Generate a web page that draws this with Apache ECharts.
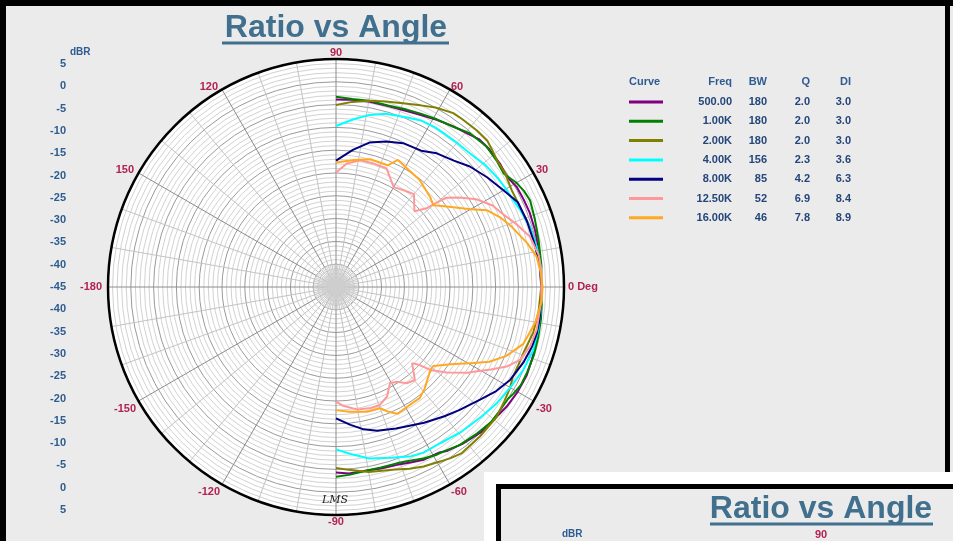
<!DOCTYPE html>
<html><head><meta charset="utf-8">
<script src="https://cdn.jsdelivr.net/npm/echarts@6/dist/echarts.min.js"></script>
<style>html,body{margin:0;padding:0;background:#ebebeb}#c{width:953px;height:541px}</style>
</head><body><div id="c"></div>
<script>
// ---- data (angle in degrees, level in dBR) ----
const seriesNames = ['500.00', '1.00K', '2.00K', '4.00K', '8.00K', '12.50K', '16.00K'];
const bwValues = ['180', '180', '180', '156', '85', '52', '46'];
const qValues = ['2.0', '2.0', '2.0', '2.3', '4.2', '6.9', '7.8'];
const diValues = ['3.0', '3.0', '3.0', '3.6', '6.3', '8.4', '8.9'];
const seriesColors = ['#800080', '#008000', '#808000', '#00ffff', '#000080', '#ff9999', '#ffa820'];

const curve500 = [[90,-3.9],[85,-3.8],[80,-3.7],[74,-3.7],[69,-3.5],[64,-3.0],[59,-2.2],[54,-1.4],[50,-0.8],[46,0.1],[42,0.2],[37,0.0],[33,-0.4],[29,0.3],[25,0.4],[21,0.5],[16,0.4],[11,0.25],[6,0.1],[0,0],[-5,0.1],[-9,0.2],[-15,0.5],[-20,0.8],[-25,1.1],[-30,1.0],[-35,0.7],[-40,0.2],[-45,0.0],[-51,-0.8],[-56,-1.6],[-58,-2.2],[-63,-2.5],[-67,-3.2],[-71,-3.75],[-76,-4.0],[-80,-4.2],[-86,-4.0],[-90,-4.3]];
const curve1k = [[90,-3.3],[85,-3.6],[80,-3.5],[74,-3.6],[69,-3.2],[64,-2.7],[59,-2.1],[54,-1.5],[49,-0.3],[43,0.15],[38,-0.2],[34,-0.6],[30,0.7],[27,1.3],[24,1.6],[19,1.1],[13,0.6],[6,0.3],[0,0],[-5,0.3],[-9,0.5],[-14,0.7],[-19,0.9],[-24,0.9],[-28,0.9],[-31,0.4],[-33,0.0],[-37,0.0],[-41,0.1],[-46,-0.4],[-52,-1.0],[-56,-1.8],[-59,-2.1],[-63,-2.8],[-67,-3.6],[-71,-4.1],[-76,-4.2],[-80,-4.2],[-86,-3.7],[-90,-3.4]];
const curve2k = [[90,-5.1],[85,-4.25],[80,-3.5],[75,-2.9],[70,-2.1],[65,-1.05],[61,0.0],[56,1.0],[53,1.05],[48,1.2],[44,1.15],[41,0.5],[38,-0.1],[34,-0.3],[29,-1.0],[24,-1.0],[17,-0.45],[11,-0.1],[5,0.0],[0,0],[-7,-0.25],[-13,-0.6],[-19,-1.4],[-23,-1.5],[-27,-1.5],[-30,-0.9],[-34,-0.4],[-39,0.3],[-46,0.5],[-53,0.7],[-56,0.2],[-59,-0.4],[-64,-1.2],[-68,-2.0],[-72,-2.9],[-80,-3.8],[-86,-4.8],[-90,-5.3]];
const curve4k = [[90,-9.7],[84,-8.0],[79,-6.55],[74,-5.5],[68,-4.8],[63,-4.0],[58,-3.8],[51,-3.75],[45,-3.5],[39,-2.7],[34,-2.25],[30,-1.95],[26,-1.7],[23,-1.25],[17,-0.45],[11,-0.1],[6,0.1],[0,0],[-6,0.2],[-12,0.35],[-18,0.4],[-24,-0.1],[-30,-0.9],[-36,-1.5],[-42,-2.3],[-49,-3.0],[-56,-3.8],[-62,-3.9],[-66,-4.4],[-72,-5.6],[-79,-6.7],[-85,-8.25],[-90,-9.4]];
const curve8k = [[90,-17.3],[83,-14.7],[77,-12.5],[71,-11.25],[65,-10.2],[58,-9.75],[53,-8.3],[47,-7.1],[42,-5.5],[36,-4.05],[30,-2.6],[25,-1.0],[19,-0.7],[13,-0.5],[6,0.0],[0,0],[-5,0.1],[-9,0.2],[-13,0.2],[-17,-0.1],[-22,-0.7],[-28,-1.7],[-33,-3.1],[-38,-4.9],[-45,-6.8],[-50,-8.0],[-57,-9.5],[-67,-11.3],[-74,-12.2],[-79,-13.2],[-84,-14.6],[-90,-16.2]];
const curve12k = [[90,-19.9],[85,-17.8],[79,-16.7],[73,-16.7],[67,-16.7],[60,-19.7],[55,-19.1],[50,-18.4],[44,-21.1],[41,-18.7],[40,-16.3],[39,-13.9],[36,-11.6],[32,-8.7],[27.5,-6.3],[24,-5.2],[19,-3.0],[14.5,-1.05],[9,0.0],[4,0.2],[0,0],[-4,0.1],[-12,0.0],[-17,-0.5],[-21.6,-1.6],[-25,-3.7],[-28,-6.5],[-31.7,-9.6],[-33,-10.5],[-37.7,-14.3],[-41.4,-17.5],[-43,-19.9],[-45,-21.4],[-49.7,-18.25],[-53.7,-18.8],[-57.3,-20.3],[-60.7,-20.8],[-65,-18.5],[-69.6,-17.4],[-74,-17.4],[-80,-17.7],[-86.5,-18.9],[-90,-19.85]];
const curve16k = [[90,-17.7],[82,-16.9],[75,-16.0],[67,-16.0],[64,-14.0],[59,-14.7],[52,-15.2],[44,-16.4],[40,-17.1],[36,-15.0],[30,-10.9],[27,-7.9],[23,-5.9],[19,-4.3],[13,-2.0],[8.6,-0.5],[4,0.0],[0,0.3],[-4,0.2],[-10,-0.6],[-13,-1.3],[-17,-2.1],[-22,-4.7],[-26,-7.6],[-29,-10.6],[-34,-14.7],[-39,-17.5],[-41,-17.5],[-49,-15.4],[-53,-14.5],[-58,-14.5],[-64,-14.1],[-67,-15.2],[-70,-16.7],[-76,-16.8],[-84,-17.5],[-90,-18.0]];
const curves = [curve500, curve1k, curve2k, curve4k, curve8k, curve12k, curve16k];

const dbrMin = -45, dbrMax = 5, dbrStep = 5;
const angleMin = -180, angleMax = 180, angleStep = 30;
const headerLabels = ['Curve', 'Freq', 'BW', 'Q', 'DI'];

// ---- chart ----
const TITLE_C = '#41708e';
const BLUE = '#2d5c92';
const DARK = '#24467a';
const RED = '#b22252';
const FONT = 'Liberation Sans, Arial, sans-serif';

const chart = echarts.init(document.getElementById('c'), null, {renderer: 'canvas'});

const lbl = {color: BLUE, fontWeight: 'bold', fontSize: 11, fontFamily: FONT, margin: 4};
const yCommon = {type: 'value', min: dbrMin, max: dbrMax, interval: dbrStep,
  axisLine: {show: false}, axisTick: {show: false}, splitLine: {show: false}};

const rs = w => ({width: w, align: 'right', fontWeight: 'bold', fontSize: 11, color: DARK, fontFamily: FONT});
const rich = {f: rs(64), b: rs(35), q: rs(43), d: rs(41)};

// angle-label spacing from the rim (padding: top, right, bottom, left)
const angPad = {'90': [0,0,5,0], '60': [0,0,1,3], '30': [0,0,0,6], '0': [0,0,0,8],
  '-30': [4,0,0,6], '-60': [5,0,0,3], '-90': [5,0,0,0], '-120': [5,4,0,0],
  '-150': [4,6,0,0], '-180': [0,10,0,0], '150': [0,8,0,0], '120': [0,6,1,0]};
const angRich = {};
Object.keys(angPad).forEach(k => {
  angRich['a' + k.replace('-', 'm')] = {padding: angPad[k], color: RED, fontWeight: 'bold', fontSize: 11, fontFamily: FONT};
});

const headerX = [629, 732, 767, 810, 851];
const headerAlign = ['left', 'right', 'right', 'right', 'right'];

const graphics = [
  {type: 'circle', z: -1, shape: {cx: 336, cy: 287, r: 228}, style: {fill: '#ffffff'}},
  {type: 'rect', shape: {x: 0, y: 0, width: 953, height: 6}, style: {fill: '#000'}, z: 100},
  {type: 'rect', shape: {x: 0, y: 0, width: 6, height: 541}, style: {fill: '#000'}, z: 100},
  {type: 'rect', shape: {x: 945, y: 0, width: 5, height: 475}, style: {fill: '#000'}, z: 100},
  {type: 'text', x: 336, y: 28, z: 100, style: {text: 'Ratio vs Angle', font: 'bold 32px ' + FONT, fill: TITLE_C, align: 'center', verticalAlign: 'middle'}},
  {type: 'line', z: 100, shape: {x1: 222, y1: 43, x2: 449, y2: 43}, style: {stroke: TITLE_C, lineWidth: 3}},
  {type: 'text', x: 70, y: 52, z: 100, style: {text: 'dBR', font: 'bold 10px ' + FONT, fill: BLUE, align: 'left', verticalAlign: 'middle'}},
  {type: 'text', x: 335, y: 500, z: 100, style: {text: 'LMS', font: 'italic 11px DejaVu Serif, serif', fill: '#222', align: 'center', verticalAlign: 'middle'}},
  {type: 'rect', z: 200, shape: {x: 484, y: 472, width: 469, height: 69}, style: {fill: '#fff'}},
  {type: 'rect', z: 201, shape: {x: 496, y: 484, width: 457, height: 57}, style: {fill: '#000'}},
  {type: 'rect', z: 202, shape: {x: 501, y: 489, width: 452, height: 52}, style: {fill: '#ebebeb'}},
  {type: 'text', z: 203, x: 821, y: 509, style: {text: 'Ratio vs Angle', font: 'bold 32px ' + FONT, fill: TITLE_C, align: 'center', verticalAlign: 'middle'}},
  {type: 'line', z: 203, shape: {x1: 710, y1: 524, x2: 933, y2: 524}, style: {stroke: TITLE_C, lineWidth: 3}},
  {type: 'text', z: 203, x: 562, y: 534, style: {text: 'dBR', font: 'bold 10px ' + FONT, fill: BLUE, align: 'left', verticalAlign: 'middle'}},
  {type: 'text', z: 203, x: 821, y: 535, style: {text: '90', font: 'bold 11px ' + FONT, fill: RED, align: 'center', verticalAlign: 'middle'}}
];
headerLabels.forEach((t, i) => graphics.push({type: 'text', x: headerX[i], y: 82, z: 100,
  style: {text: t, font: 'bold 11px ' + FONT, fill: BLUE, align: headerAlign[i], verticalAlign: 'middle'}}));

const option = {
  animation: false,
  backgroundColor: '#ebebeb',
  polar: [{center: [336, 287], radius: 228}, {center: [336, 287], radius: 23}],
  angleAxis: [{
    polarIndex: 0,
    type: 'value', min: angleMin, max: angleMax, interval: angleStep,
    startAngle: 180, clockwise: false,
    axisLine: {show: true, lineStyle: {color: '#000', width: 2.5}},
    axisTick: {show: false},
    axisLabel: {color: RED, fontWeight: 'bold', fontSize: 11, fontFamily: FONT, margin: -4, rich: angRich,
      formatter: v => {
        if (v === angleMax) return '';
        const t = v === 0 ? '0 Deg' : String(v);
        return '{a' + String(v).replace('-', 'm') + '|' + t + '}';
      }},
    splitLine: {show: true, lineStyle: {color: '#8c8c8c', width: 1}},
    minorTick: {show: false, splitNumber: 3},
    minorSplitLine: {show: true, lineStyle: {color: '#c4c4c4', width: 1}}
  }, {
    polarIndex: 1,
    type: 'value', min: angleMin, max: angleMax, interval: 5,
    startAngle: 180, clockwise: false,
    axisLine: {show: false}, axisTick: {show: false}, axisLabel: {show: false},
    splitLine: {show: true, lineStyle: {color: '#cfcfcf', width: 1}}
  }],
  radiusAxis: [{
    polarIndex: 0,
    type: 'value', min: dbrMin, max: dbrMax, interval: dbrStep,
    axisLine: {show: false}, axisTick: {show: false}, axisLabel: {show: false},
    splitLine: {show: true, lineStyle: {color: '#9a9a9a', width: 1}},
    minorTick: {show: false, splitNumber: 5},
    minorSplitLine: {show: true, lineStyle: {color: '#d2d2d2', width: 1}}
  }, {
    polarIndex: 1, type: 'value', min: 0, max: 1,
    axisLine: {show: false}, axisTick: {show: false}, axisLabel: {show: false}, splitLine: {show: false}
  }],
  grid: [
    {left: 70, top: 64, width: 1, height: 223},
    {left: 70, top: 287, width: 1, height: 223}
  ],
  xAxis: [{gridIndex: 0, type: 'value', show: false}, {gridIndex: 1, type: 'value', show: false}],
  yAxis: [
    Object.assign({gridIndex: 0, axisLabel: lbl}, yCommon),
    Object.assign({gridIndex: 1, inverse: true, axisLabel: Object.assign({formatter: v => v === dbrMin ? '' : String(v)}, lbl)}, yCommon)
  ],
  legend: {
    orient: 'vertical', left: 629, top: 95, padding: 0, itemWidth: 34, itemHeight: 3, itemGap: 5.3,
    icon: 'rect', selectedMode: false,
    data: seriesNames,
    textStyle: {lineHeight: 14, fontSize: 11, fontWeight: 'bold', color: DARK, fontFamily: FONT, rich: rich},
    formatter: name => {
      const i = seriesNames.indexOf(name);
      return '{f|' + name + '}{b|' + bwValues[i] + '}{q|' + qValues[i] + '}{d|' + diValues[i] + '}';
    }
  },
  graphic: graphics,
  series: curves.map((c, i) => ({
    name: seriesNames[i], type: 'line', coordinateSystem: 'polar', polarIndex: 0,
    showSymbol: false, symbol: 'none', color: seriesColors[i],
    lineStyle: {width: 2, color: seriesColors[i]},
    data: c.map(p => [p[1], p[0]])
  }))
};
chart.setOption(option);
</script></body></html>
